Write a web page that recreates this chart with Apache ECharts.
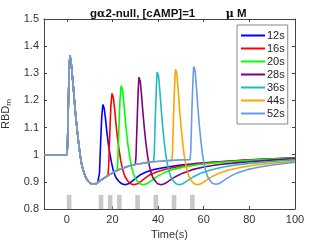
<!DOCTYPE html>
<html><head><meta charset="utf-8">
<script src="https://cdn.jsdelivr.net/npm/echarts@6/dist/echarts.min.js"></script>
<style>html,body{margin:0;padding:0;background:#fff}#c{width:327px;height:242px}</style>
</head><body><div id="c"></div>
<script>
const seriesNames = ['12s','16s','20s','28s','36s','44s','52s'];
const colors = ['#0000ff','#ff0000','#00ff00','#800080','#1fbcbc','#ffa500','#6a9ae8'];
const pulseStarts = [0,14,18,22,30,38,46,54];
const pulseDur = 2;
const pulseTop = 0.852;
const xTicks = [0,20,40,60,80,100];

// common first response (shared by all traces until their second pulse)
const firstResp = [[-10,1.0],[0,1.0],[0.3,1.03],[0.7,1.2],[1.1,1.33],[1.4,1.365],[2,1.33],[2.85,1.25],[3.6,1.17],[4.3,1.11],[5,1.055],[5.8,1.0],[6.5,0.965],[7.5,0.933],[8.5,0.913],[9.5,0.901],[10.5,0.894],[11.5,0.891],[12.5,0.892],[13.5,0.897],[14,0.902],[15,0.907],[16,0.912],[18,0.923],[20,0.933],[22,0.942],[24,0.949],[26,0.955],[28,0.96],[30,0.964],[32,0.967],[35,0.971],[38,0.974],[42,0.977],[46,0.979],[50,0.981],[54,0.982]];

const resp12 = [[14,0.902],[14.3,0.93],[14.8,1.04],[15.3,1.14],[15.8,1.185],[16,1.188],[16.4,1.17],[17,1.13],[17.5,1.088],[18.2,1.04],[18.9,1.003],[19.6,0.97],[20.4,0.941],[21.2,0.922],[21.9,0.911],[23,0.9],[24.1,0.893],[25.5,0.889],[27,0.893],[28.5,0.902],[30,0.912],[32,0.925],[35,0.937],[38,0.945],[44,0.955],[50,0.962],[56,0.967],[62,0.971],[70,0.976],[80,0.981],[90,0.985],[100,0.989]];
const resp16 = [[18,0.923],[18.3,0.95],[18.8,1.07],[19.3,1.18],[19.8,1.226],[20,1.23],[20.4,1.21],[21,1.165],[21.5,1.118],[22.2,1.062],[22.9,1.018],[23.6,0.98],[24.4,0.948],[25.2,0.926],[25.9,0.913],[27,0.9],[28,0.893],[29.3,0.889],[31,0.893],[32.5,0.902],[34,0.912],[36,0.924],[39,0.935],[44,0.948],[50,0.958],[56,0.965],[62,0.97],[70,0.975],[80,0.98],[90,0.984],[100,0.988]];
const resp20 = [[22,0.942],[22.3,0.97],[22.8,1.09],[23.3,1.2],[23.8,1.255],[24,1.26],[24.4,1.24],[25,1.19],[25.5,1.14],[26.2,1.08],[26.9,1.03],[27.6,0.99],[28.4,0.955],[29.2,0.93],[29.9,0.915],[31,0.901],[32,0.893],[33.5,0.889],[35,0.893],[36.5,0.901],[38,0.91],[40,0.922],[43,0.935],[47,0.947],[52,0.956],[58,0.964],[65,0.97],[72,0.975],[80,0.979],[90,0.984],[100,0.987]];
const resp28 = [[30,0.964],[30.3,0.99],[30.8,1.12],[31.3,1.24],[31.6,1.285],[31.8,1.29],[32.2,1.27],[32.8,1.215],[33.3,1.16],[34,1.095],[34.7,1.04],[35.4,0.995],[36.2,0.958],[37,0.932],[37.7,0.916],[38.8,0.902],[39.8,0.893],[41.3,0.889],[42.8,0.893],[44.3,0.901],[46,0.911],[48,0.921],[51,0.933],[55,0.945],[60,0.955],[66,0.963],[73,0.969],[80,0.974],[90,0.98],[100,0.985]];
const resp36 = [[38,0.974],[38.3,1.0],[38.8,1.14],[39.3,1.26],[39.6,1.305],[39.8,1.31],[40.2,1.29],[40.8,1.233],[41.3,1.175],[42,1.105],[42.7,1.045],[43.4,0.998],[44.2,0.96],[45,0.933],[45.7,0.916],[46.8,0.902],[47.8,0.893],[49.3,0.889],[50.8,0.893],[52.3,0.901],[54,0.911],[56,0.921],[59,0.933],[63,0.944],[68,0.954],[74,0.962],[80,0.968],[90,0.975],[100,0.981]];
const resp44 = [[46,0.979],[46.3,1.005],[46.8,1.15],[47.3,1.27],[47.6,1.315],[47.8,1.32],[48.2,1.3],[48.8,1.24],[49.3,1.18],[50,1.11],[50.7,1.05],[51.4,1.0],[52.2,0.961],[53,0.934],[53.7,0.917],[54.8,0.902],[55.8,0.893],[57.3,0.889],[58.8,0.893],[60.3,0.901],[62,0.911],[64,0.921],[67,0.933],[71,0.944],[76,0.953],[82,0.961],[90,0.969],[100,0.976]];
const resp52 = [[54,0.982],[54.3,1.01],[54.8,1.16],[55.3,1.28],[55.6,1.325],[55.8,1.33],[56.2,1.31],[56.8,1.25],[57.3,1.19],[58,1.115],[58.7,1.055],[59.4,1.005],[60.2,0.965],[61,0.937],[61.7,0.919],[62.8,0.904],[63.8,0.895],[65.3,0.891],[66.8,0.894],[68.3,0.902],[70,0.912],[72,0.922],[75,0.934],[79,0.945],[84,0.954],[90,0.962],[100,0.972]];

const responses = [resp12,resp16,resp20,resp28,resp36,resp44,resp52];

const FONT = '"Liberation Sans", Arial, Helvetica, sans-serif';
const chart = echarts.init(document.getElementById('c'), null, {renderer:'canvas'});

const lineSeries = seriesNames.map((name,i)=>{
  const r = responses[i];
  const start = r[0][0];
  const data = firstResp.filter(p=>p[0] < start).concat(r);
  return {
    name, type:'line', data, symbol:'none', showSymbol:false,
    lineStyle:{color:colors[i], width:1.6}, itemStyle:{color:colors[i]},
    clip:true, z:3+i, animation:false
  };
});

const pulseData = pulseStarts.map(s=>[s, s+pulseDur, 0.8, pulseTop]);

const axisCol = '#444';
const option = {
  animation:false,
  backgroundColor:'#fff',
  title:{
    text:'{b|g}{a|α}{b|2-null, [cAMP]=1}{s|          }{a|μ}{b| M}',
    left:85, top:3,
    textStyle:{rich:{
      b:{fontFamily:FONT, fontWeight:'bold', fontSize:11.5, color:'#111'},
      a:{fontFamily:'"DejaVu Serif", serif', fontSize:11, color:'#111'},
      s:{fontSize:11}
    }}
  },
  legend:{
    orient:'vertical', left:237, top:25,
    data:seriesNames,
    itemWidth:24, itemHeight:2, itemGap:0,
    padding:[4,3,4,4],
    borderColor:'#888', borderWidth:1, backgroundColor:'#fff',
    textStyle:{fontFamily:FONT, fontSize:11, color:'#222', lineHeight:13, padding:[0,0,0,-3]},
    icon:'rect', itemStyle:{borderWidth:0}
  },
  grid:{left:44, right:32, top:19, bottom:33, show:false, outerBoundsMode:'none', containLabel:false},
  xAxis:[{
    type:'value', min:-10, max:100, position:'bottom',
    axisLine:{show:true, onZero:false, lineStyle:{color:axisCol, width:1}},
    axisTick:{show:true, inside:true, length:3, customValues:xTicks, lineStyle:{color:axisCol}},
    axisLabel:{customValues:xTicks, fontFamily:FONT, fontSize:11, color:'#333', margin:5},
    splitLine:{show:false},
    name:'Time(s)', nameLocation:'middle', nameGap:18,
    nameTextStyle:{fontFamily:FONT, fontSize:11, color:'#333'}
  },{
    type:'value', min:-10, max:100, position:'top',
    axisLine:{show:true, onZero:false, lineStyle:{color:axisCol, width:1}},
    axisTick:{show:true, inside:true, length:3, customValues:xTicks, lineStyle:{color:axisCol}},
    axisLabel:{show:false}, splitLine:{show:false}
  }],
  yAxis:[{
    type:'value', min:0.8, max:1.5, interval:0.1, position:'left',
    axisLine:{show:true, onZero:false, lineStyle:{color:axisCol, width:1}},
    axisTick:{show:true, inside:true, length:3, lineStyle:{color:axisCol}},
    axisLabel:{fontFamily:FONT, fontSize:11, color:'#333', margin:5,
      formatter:v=>String(Math.round(v*10)/10)},
    splitLine:{show:false},
    name:'{r|RBD}{m|m}', nameLocation:'middle', nameGap:28, nameRotate:90,
    nameTextStyle:{rich:{
      r:{fontFamily:FONT, fontSize:11, color:'#333'},
      m:{fontFamily:FONT, fontSize:8, color:'#333', verticalAlign:'bottom', padding:[6,0,0,0]}
    }}
  },{
    type:'value', min:0.8, max:1.5, interval:0.1, position:'right',
    axisLine:{show:true, onZero:false, lineStyle:{color:axisCol, width:1}},
    axisTick:{show:true, inside:true, length:3, lineStyle:{color:axisCol}},
    axisLabel:{show:false}, splitLine:{show:false}
  }],
  series:[{
    type:'custom', name:'pulse', data:pulseData, z:1, silent:true,
    encode:{x:[0,1], y:[2,3]},
    renderItem:(params, api)=>{
      const p0 = api.coord([api.value(0), api.value(3)]);
      const p1 = api.coord([api.value(1), api.value(2)]);
      return {type:'rect', shape:{x:p0[0], y:p0[1], width:p1[0]-p0[0], height:p1[1]-p0[1]},
        style:{fill:'#c8c8c8'}};
    }
  }].concat(lineSeries)
};
chart.setOption(option);
</script></body></html>
